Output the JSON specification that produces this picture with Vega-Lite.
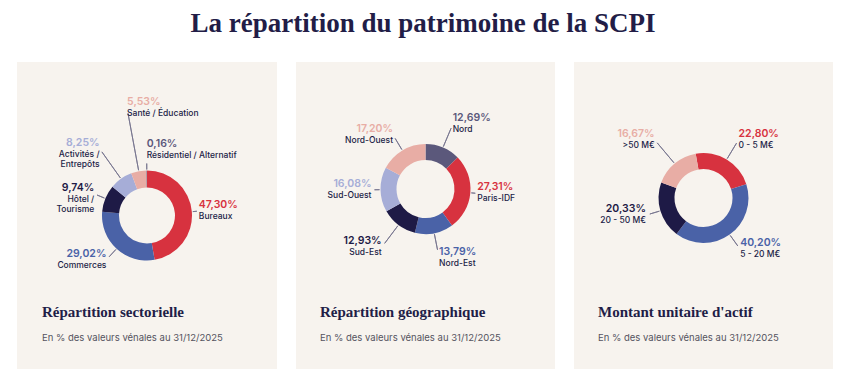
{
  "$schema": "https://vega.github.io/schema/vega-lite/v6.json",
  "background": "white",
  "padding": {"left": 17, "top": 10, "right": 0, "bottom": 0},
  "spacing": 19,
  "resolve": {"scale": {"color": "independent", "theta": "independent", "radius": "independent"}},
  "title": {"text": "La répartition du patrimoine de la SCPI", "font": "Liberation Serif", "fontSize": 27, "fontWeight": "bold", "color": "#221d47", "anchor": "middle", "offset": 24, "dx": -2},
  "config": {
    "view": {"fill": "#f7f3ee", "stroke": null},
    "locale": {"number": {"decimal": ",", "thousands": " ", "grouping": [3], "currency": ["", " €"]}},
    "text": {"font": "Inter"}
  },
  "hconcat": [
    {
      "width": 260,
      "height": 307,
      "view": {"fill": "#f7f3ee", "stroke": null},
      "data": {"values": [
        {"cat": "Bureaux", "share": 0.4730, "o": 1},
        {"cat": "Commerces", "share": 0.2902, "o": 2},
        {"cat": "Hôtel /\nTourisme", "share": 0.0974, "o": 3},
        {"cat": "Activités /\nEntrepôts", "share": 0.0825, "o": 4},
        {"cat": "Santé / Éducation", "share": 0.0553, "o": 5},
        {"cat": "Résidentiel / Alternatif", "share": 0.0016, "o": 6}
      ]},
      "title": {"text": "Répartition sectorielle", "subtitle": "En % des valeurs vénales au 31/12/2025", "orient": "bottom", "anchor": "start", "frame": "group", "offset": -64, "dx": 25, "font": "Liberation Serif", "fontSize": 15, "fontWeight": "bold", "color": "#221d47", "subtitleFont": "Inter", "subtitleFontSize": 9.5, "subtitleColor": "#55535f", "subtitlePadding": 13},
      "encoding": {
        "theta": {"field": "share", "type": "quantitative", "stack": true},
        "order": {"field": "o", "type": "quantitative"},
        "color": {"field": "cat", "type": "nominal", "legend": null, "scale": {
          "domain": ["Bureaux", "Commerces", "Hôtel /\nTourisme", "Activités /\nEntrepôts", "Santé / Éducation", "Résidentiel / Alternatif"],
          "range": ["#d7323f", "#4a62a7", "#1e1a46", "#a6add7", "#e8ada5", "#5b587b"]}}
      },
      "resolve": {"scale": {"radius": "independent"}},
      "layer": [
        {"mark": {"type": "arc", "filled": false, "padAngle": 3.14, "innerRadius": 46, "strokeWidth": 0.9},
          "encoding": {
            "color": {"value": "#77758f"},
            "radius": {"field": "share", "type": "quantitative", "scale": {"type": "linear", "zero": false, "domain": [0.0016, 0.0553, 0.0825, 0.0974, 0.2902, 0.4730], "range": [52, 104, 78, 54, 56, 50]}}
          }},
        {"mark": {"type": "arc", "innerRadius": 28, "outerRadius": 45}},
        {"mark": {"type": "text", "baseline": "bottom", "dy": -1, "fontSize": 10.5, "fontWeight": 600,
          "align": {"expr": "(datum.share_start + datum.share_end) < 1 || (datum.share_start + datum.share_end) > 1.9 ? 'left' : 'right'"}},
          "encoding": {
            "text": {"field": "share", "type": "quantitative", "format": ".2%"},
            "radius": {"field": "share", "type": "quantitative", "scale": {"type": "linear", "zero": false, "domain": [0.0016, 0.0553, 0.0825, 0.0974, 0.2902, 0.4730], "range": [66, 109, 82, 57, 60, 52]}}
          }},
        {"mark": {"type": "text", "baseline": "top", "dy": 1, "fontSize": 8.5, "fontWeight": 500, "lineBreak": "\n",
          "align": {"expr": "(datum.share_start + datum.share_end) < 1 || (datum.share_start + datum.share_end) > 1.9 ? 'left' : 'right'"}},
          "encoding": {
            "text": {"field": "cat", "type": "nominal"},
            "color": {"value": "#221d47"},
            "radius": {"field": "share", "type": "quantitative", "scale": {"type": "linear", "zero": false, "domain": [0.0016, 0.0553, 0.0825, 0.0974, 0.2902, 0.4730], "range": [66, 109, 82, 57, 60, 52]}}
          }}
      ]
    },
    {
      "vconcat": [
        {
          "width": 259,
          "height": 254,
          "view": {"fill": "#f7f3ee", "stroke": null},
          "data": {"values": [
            {"cat": "Nord", "share": 0.1269, "o": 1},
            {"cat": "Paris-IDF", "share": 0.2731, "o": 2},
            {"cat": "Nord-Est", "share": 0.1379, "o": 3},
            {"cat": "Sud-Est", "share": 0.1293, "o": 4},
            {"cat": "Sud-Ouest", "share": 0.1608, "o": 5},
            {"cat": "Nord-Ouest", "share": 0.1720, "o": 6}
          ]},
          "encoding": {
            "theta": {"field": "share", "type": "quantitative", "stack": true},
            "order": {"field": "o", "type": "quantitative"},
            "color": {"field": "cat", "type": "nominal", "legend": null, "scale": {
              "domain": ["Nord", "Paris-IDF", "Nord-Est", "Sud-Est", "Sud-Ouest", "Nord-Ouest"],
              "range": ["#5b587b", "#d7323f", "#4a62a7", "#1e1a46", "#a6add7", "#e8ada5"]}}
          },
          "resolve": {"scale": {"radius": "independent"}},
          "layer": [
            {"mark": {"type": "arc", "filled": false, "padAngle": 3.14, "innerRadius": 46, "strokeWidth": 0.9},
              "encoding": {
                "color": {"value": "#77758f"},
                "radius": {"field": "share", "type": "quantitative", "scale": {"type": "linear", "zero": false, "domain": [0.1269, 0.1293, 0.1379, 0.1608, 0.1720, 0.2731], "range": [66, 68, 62, 51, 59, 50]}}
              }},
            {"mark": {"type": "arc", "innerRadius": 29, "outerRadius": 45}},
            {"mark": {"type": "text", "baseline": "bottom", "dy": -1, "fontSize": 10.5, "fontWeight": 600,
              "align": {"expr": "(datum.share_start + datum.share_end) < 1 || (datum.share_start + datum.share_end) > 1.9 ? 'left' : 'right'"}},
              "encoding": {
                "text": {"field": "share", "type": "quantitative", "format": ".2%"},
                "radius": {"field": "share", "type": "quantitative", "scale": {"type": "linear", "zero": false, "domain": [0.1269, 0.1293, 0.1379, 0.1608, 0.1720, 0.2731], "range": [70, 73, 70, 54, 63, 52]}}
              }},
            {"mark": {"type": "text", "baseline": "top", "dy": 1, "fontSize": 8.5, "fontWeight": 500, "lineBreak": "\n",
              "align": {"expr": "(datum.share_start + datum.share_end) < 1 || (datum.share_start + datum.share_end) > 1.9 ? 'left' : 'right'"}},
              "encoding": {
                "text": {"field": "cat", "type": "nominal"},
                "color": {"value": "#221d47"},
                "radius": {"field": "share", "type": "quantitative", "scale": {"type": "linear", "zero": false, "domain": [0.1269, 0.1293, 0.1379, 0.1608, 0.1720, 0.2731], "range": [70, 73, 70, 54, 63, 52]}}
              }}
          ]
        },
        {
          "width": 259,
          "height": 53,
          "view": {"fill": "#f7f3ee", "stroke": null},
          "data": {"values": []},
          "mark": {"type": "text"},
          "encoding": {},
          "title": {"text": "Répartition géographique", "subtitle": "En % des valeurs vénales au 31/12/2025", "orient": "bottom", "anchor": "start", "frame": "group", "offset": -64, "dx": 24, "font": "Liberation Serif", "fontSize": 15, "fontWeight": "bold", "color": "#221d47", "subtitleFont": "Inter", "subtitleFontSize": 9.5, "subtitleColor": "#55535f", "subtitlePadding": 13}
        }
      ],
      "spacing": 0,
      "bounds": "flush"
    },
    {
      "vconcat": [
        {
          "width": 259,
          "height": 272,
          "view": {"fill": "#f7f3ee", "stroke": null},
          "data": {"values": [
            {"cat": "0 - 5 M€", "share": 0.2280, "o": 1},
            {"cat": "5 - 20 M€", "share": 0.4020, "o": 2},
            {"cat": "20 - 50 M€", "share": 0.2033, "o": 3},
            {"cat": ">50 M€", "share": 0.1667, "o": 4}
          ]},
          "encoding": {
            "theta": {"field": "share", "type": "quantitative", "stack": true, "scale": {"range": [-0.1745, 6.1087]}},
            "order": {"field": "o", "type": "quantitative"},
            "color": {"field": "cat", "type": "nominal", "legend": null, "scale": {
              "domain": ["0 - 5 M€", "5 - 20 M€", "20 - 50 M€", ">50 M€"],
              "range": ["#d7323f", "#4a62a7", "#1e1a46", "#e8ada5"]}}
          },
          "resolve": {"scale": {"radius": "independent"}},
          "layer": [
            {"mark": {"type": "arc", "filled": false, "padAngle": 3.14, "innerRadius": 46, "strokeWidth": 0.9},
              "encoding": {
                "color": {"value": "#77758f"},
                "radius": {"field": "share", "type": "quantitative", "scale": {"type": "linear", "zero": false, "domain": [0.1667, 0.2033, 0.2280, 0.4020], "range": [72, 56, 64, 59]}}
              }},
            {"mark": {"type": "arc", "innerRadius": 29, "outerRadius": 45}},
            {"mark": {"type": "text", "baseline": "bottom", "dy": -1, "fontSize": 10.5, "fontWeight": 600,
              "align": {"expr": "(datum.share_start + datum.share_end) < 1 || (datum.share_start + datum.share_end) > 1.9 ? 'left' : 'right'"}},
              "encoding": {
                "text": {"field": "share", "type": "quantitative", "format": ".2%"},
                "radius": {"field": "share", "type": "quantitative", "scale": {"type": "linear", "zero": false, "domain": [0.1667, 0.2033, 0.2280, 0.4020], "range": [76, 60, 68, 63]}}
              }},
            {"mark": {"type": "text", "baseline": "top", "dy": 1, "fontSize": 8.5, "fontWeight": 500, "lineBreak": "\n",
              "align": {"expr": "(datum.share_start + datum.share_end) < 1 || (datum.share_start + datum.share_end) > 1.9 ? 'left' : 'right'"}},
              "encoding": {
                "text": {"field": "cat", "type": "nominal"},
                "color": {"value": "#221d47"},
                "radius": {"field": "share", "type": "quantitative", "scale": {"type": "linear", "zero": false, "domain": [0.1667, 0.2033, 0.2280, 0.4020], "range": [76, 60, 68, 63]}}
              }}
          ]
        },
        {
          "width": 259,
          "height": 35,
          "view": {"fill": "#f7f3ee", "stroke": null},
          "data": {"values": []},
          "mark": {"type": "text"},
          "encoding": {},
          "title": {"text": "Montant unitaire d'actif", "subtitle": "En % des valeurs vénales au 31/12/2025", "orient": "bottom", "anchor": "start", "frame": "group", "offset": -64, "dx": 24, "font": "Liberation Serif", "fontSize": 15, "fontWeight": "bold", "color": "#221d47", "subtitleFont": "Inter", "subtitleFontSize": 9.5, "subtitleColor": "#55535f", "subtitlePadding": 13}
        }
      ],
      "spacing": 0,
      "bounds": "flush"
    }
  ]
}
